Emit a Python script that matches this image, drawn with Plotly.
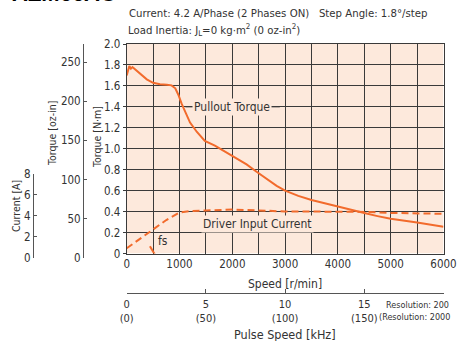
import plotly.graph_objects as go

# ---------------- data ----------------
torque_rpm = [0, 50, 80, 110, 130, 250, 380, 500, 630, 760, 850, 920, 980, 1040,
              1100, 1200, 1330, 1480, 1670, 1900, 2080, 2270, 2460, 2650, 2840,
              3000, 3250, 3500, 3750, 4000, 4250, 4500, 4750, 5000, 5500, 6000]
torque_nm = [1.70, 1.79, 1.765, 1.78, 1.77, 1.72, 1.663, 1.63, 1.615, 1.611, 1.605,
             1.577, 1.513, 1.43, 1.36, 1.25, 1.16, 1.075, 1.03, 0.96, 0.91, 0.85,
             0.78, 0.71, 0.645, 0.60, 0.55, 0.511, 0.478, 0.448, 0.415, 0.386,
             0.357, 0.331, 0.295, 0.256]

current_rpm = [0, 250, 500, 750, 1000, 1200, 1500, 2000, 2500, 3000, 3500, 4000,
               4500, 5000, 5500, 6000]
current_a = [0.90, 1.79, 2.65, 3.60, 4.32, 4.45, 4.52, 4.60, 4.52, 4.42, 4.41, 4.41,
             4.38, 4.28, 4.24, 4.20]

fs_rpm = [440, 545]
fs_nm = [0.07, -0.02]

speed_ticks = [0, 1000, 2000, 3000, 4000, 5000, 6000]
nm_ticks = [0, 0.2, 0.4, 0.6, 0.8, 1.0, 1.2, 1.4, 1.6, 1.8, 2.0]
nm_text = ["0", "0.2", "0.4", "0.6", "0.8", "1.0", "1.2", "1.4", "1.6", "1.8", "2.0"]
ozin_ticks = [0, 50, 100, 150, 200, 250]
amp_ticks = [0, 2, 4, 6, 8]
pulse_ticks = [0, 5, 10, 15, 20]
pulse_text = ["0<br>(0)", "5<br>(50)", "10<br>(100)", "15<br>(150)", ""]

# ---------------- geometry helpers ----------------
W, H = 457, 341
def px(X): return X / W
def py(Y): return (H - Y) / H

FONT = "DejaVu Sans Condensed, Liberation Sans Narrow, Arial Narrow, sans-serif"
TXT = "#333333"
AX = "#555555"
GRID = "#3a3a3a"
ORANGE = "#f26b2c"
BG = "#fde9dc"
TICK = 11.5

fig = go.Figure()

fig.add_trace(go.Scatter(x=torque_rpm, y=torque_nm, mode="lines",
                         line=dict(color=ORANGE, width=2), showlegend=False,
                         hoverinfo="skip"))
fig.add_trace(go.Scatter(x=current_rpm, y=current_a, mode="lines", yaxis="y4",
                         line=dict(color=ORANGE, width=2, dash="7px,4px"),
                         showlegend=False, hoverinfo="skip"))
fig.add_trace(go.Scatter(x=fs_rpm, y=fs_nm, mode="lines",
                         line=dict(color=ORANGE, width=2), showlegend=False,
                         hoverinfo="skip"))
# dummy traces so that auxiliary axes are drawn
fig.add_trace(go.Scatter(x=[None], y=[None], xaxis="x2", yaxis="y2", showlegend=False))
fig.add_trace(go.Scatter(x=[None], y=[None], xaxis="x2", yaxis="y3", showlegend=False))
fig.add_trace(go.Scatter(x=[None], y=[None], xaxis="x3", yaxis="y", showlegend=False))

y_top, y_bot = 44, 253.5
x_left, x_right = 126.7, 443.5
ax_bot = 257.7  # zero of the oz-in and current rulers

fig.update_layout(
    width=W, height=H, autosize=False,
    margin=dict(l=0, r=0, t=0, b=0, pad=0),
    paper_bgcolor="white", plot_bgcolor="rgba(0,0,0,0)",
    font=dict(family=FONT, size=12, color=TXT),
    xaxis=dict(domain=[px(x_left), px(x_right)], range=[0, 6000], anchor="y",
               tickvals=speed_ticks, ticks="", showgrid=True, gridcolor=GRID,
               gridwidth=1, minor=dict(dtick=500, tick0=0, showgrid=True,
                                       gridcolor=GRID, gridwidth=1),
               showline=True, mirror=True, linecolor=GRID, linewidth=1,
               zeroline=False, automargin=False, ticklabeloverflow="allow",
               tickfont=dict(size=TICK, color=TXT)),
    yaxis=dict(domain=[py(y_bot), py(y_top)], range=[0, 2], anchor="x",
               tickvals=nm_ticks, ticktext=nm_text, ticks="outside", ticklen=3,
               tickcolor=GRID, showgrid=True, gridcolor=GRID, gridwidth=1,
               showline=True, mirror=True, linecolor=GRID, linewidth=1,
               zeroline=False, automargin=False, tickfont=dict(size=TICK, color=TXT)),
    xaxis2=dict(domain=[0, 0.002], visible=False, anchor="y2", range=[0, 1],
                automargin=False),
    yaxis2=dict(domain=[py(ax_bot), py(43.5)], range=[0, 274], anchor="free",
                position=px(83), tickvals=ozin_ticks, ticks="inside", ticklen=3,
                tickcolor=AX, showline=True, linecolor=AX, linewidth=1,
                showgrid=False, zeroline=False, automargin=False,
                tickfont=dict(size=TICK, color=TXT)),
    yaxis3=dict(domain=[py(ax_bot), py(174)], range=[0, 8], anchor="free",
                position=px(33), tickvals=amp_ticks, ticks="inside", ticklen=3,
                tickcolor=AX, showline=True, linecolor=AX, linewidth=1,
                showgrid=False, zeroline=False, automargin=False,
                tickfont=dict(size=TICK, color=TXT)),
    yaxis4=dict(overlaying="y", visible=False, automargin=False,
                range=[(ax_bot - y_bot) / 10.46, (ax_bot - y_top) / 10.46]),
    xaxis3=dict(overlaying="x", range=[0, 20], anchor="free", position=py(293.3),
                side="bottom", tickvals=pulse_ticks, ticktext=pulse_text,
                ticks="inside", ticklen=4, tickcolor=AX, showline=True,
                linecolor=AX, linewidth=1, showgrid=False, zeroline=False,
                automargin=False, tickfont=dict(size=11, color=TXT)),
)

# plot background
fig.add_shape(type="rect", xref="x", yref="y", x0=0, x1=6000, y0=0, y1=2,
              fillcolor=BG, line=dict(width=0), layer="below")
# leader line for Pullout Torque label
fig.add_shape(type="line", xref="x", yref="y", x0=1110, x1=2900, y0=1.40, y1=1.40,
              line=dict(color=GRID, width=1), layer="above")

def note(text, X, Y, size=12, xanchor="center", angle=0, color=TXT, **kw):
    fig.add_annotation(text=text, xref="paper", yref="paper", x=px(X), y=py(Y),
                       xanchor=xanchor, yanchor="middle", showarrow=False,
                       textangle=angle, font=dict(size=size, color=color, family=FONT),
                       **kw)

# in-plot labels (with background)
fig.add_annotation(text="Pullout Torque", xref="x", yref="y", x=1990, y=1.40,
                   showarrow=False, bgcolor=BG, borderpad=1,
                   font=dict(size=12, color=TXT, family=FONT))
fig.add_annotation(text="Driver Input Current", xref="x", yref="y", x=2470, y=0.28,
                   showarrow=False, bgcolor=BG, borderpad=1,
                   font=dict(size=12, color=TXT, family=FONT))
fig.add_annotation(text="fs", xref="x", yref="y", x=680, y=0.12,
                   showarrow=False, bgcolor=BG, borderpad=0,
                   font=dict(size=12, color=TXT, family=FONT))

# headings (top line is cut off by the image edge in the reference)
fig.add_annotation(text="<b>AZM66AC</b>", xref="paper", yref="paper", x=px(10),
                   y=py(8.5), xanchor="left", yanchor="bottom", showarrow=False,
                   font=dict(size=22, color="black", family="Liberation Sans, sans-serif"))
note("Current: 4.2 A/Phase (2 Phases ON)   Step Angle: 1.8°/step", 127, 14,
     size=11.3, xanchor="left")
note("Load Inertia: J<sub>L</sub>=0 kg·m<sup>2</sup> (0 oz-in<sup>2</sup>)", 126, 30,
     size=11.3, xanchor="left")

# axis titles
note("Torque [N·m]", 97, 137, size=10.5, angle=-90)
note("Torque [oz-in]", 52, 134, size=10.5, angle=-90)
note("Current [A]", 16, 206, size=10.5, angle=-90)
note("Speed [r/min]", 285, 284, size=12)
note("Pulse Speed [kHz]", 285, 334, size=12.5)
note("Resolution: 200", 451, 305, size=9, xanchor="right")
note("(Resolution: 2000", 452, 317, size=9, xanchor="right")

fig.write_html("out.html")
